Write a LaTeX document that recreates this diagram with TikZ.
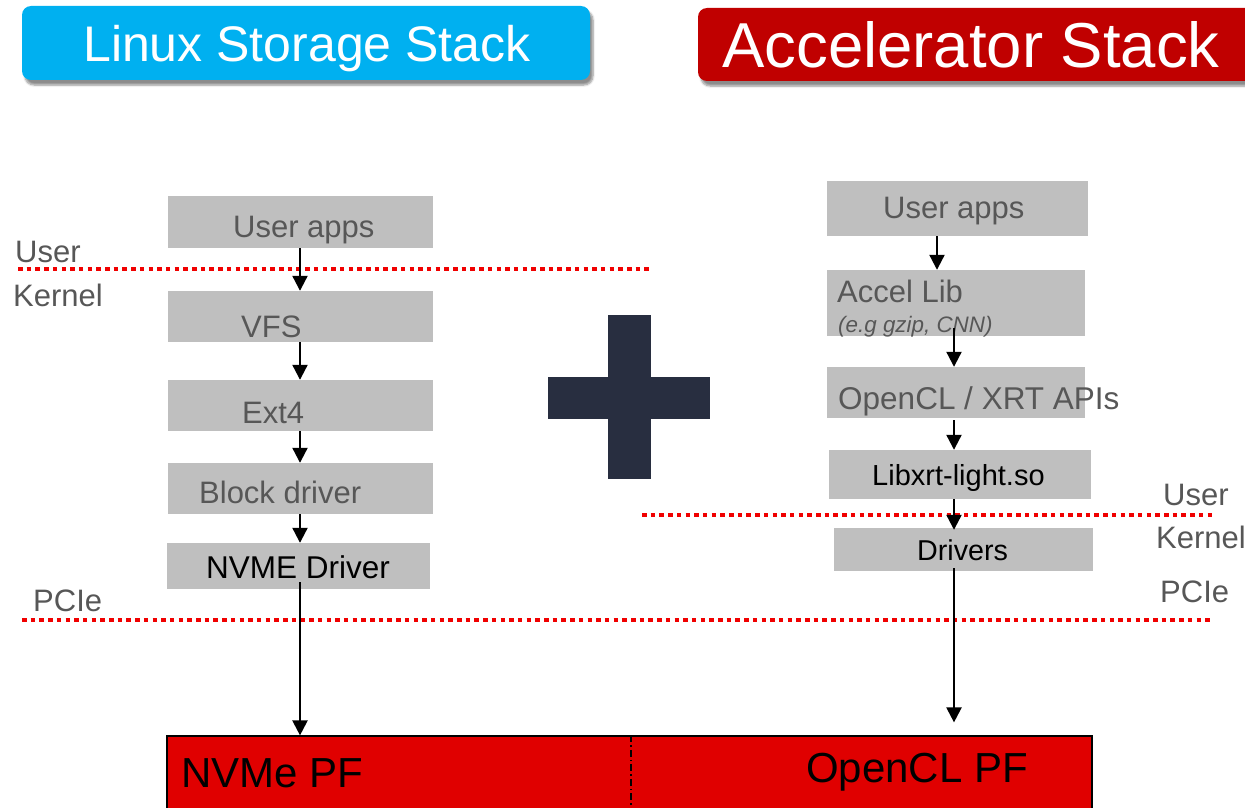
\documentclass[tikz,border=0pt]{standalone}
\usepackage{fontspec}
\setmainfont{Liberation Sans}
\usetikzlibrary{arrows.meta,shadows.blur}
\newcommand\fsz[1]{\fontsize{#1}{#1}\selectfont}
\definecolor{cyanbox}{HTML}{00B0F0}
\definecolor{darkred}{HTML}{C00000}
\definecolor{pfred}{HTML}{E00000}
\definecolor{graybox}{HTML}{BFBFBF}
\definecolor{graytext}{HTML}{575757}
\definecolor{dotred}{HTML}{F00000}
\definecolor{navy}{HTML}{282E40}
\tikzset{
  gbox/.style={fill=graybox, draw=none, inner sep=0, rectangle},
  title/.style={rounded corners=9pt, inner sep=0, draw=none,
    blur shadow={shadow xshift=3pt, shadow yshift=-5pt, shadow blur steps=6, shadow opacity=45}},
  txt/.style={inner sep=0, anchor=base west, text=graytext},
  btxt/.style={inner sep=0, anchor=base west, text=black},
  arr/.style={line width=2.2pt, -{Triangle[width=15pt,length=15pt]}},
  dotline/.style={draw=dotred, line width=4pt, dash pattern=on 4.5pt off 4.2pt},
}
\begin{document}
\begin{tikzpicture}[x=1pt,y=-1pt]
\useasboundingbox (0,0) rectangle (1245,808);

% headers
\node[title, fill=cyanbox, minimum width=568pt, minimum height=74pt] (hl) at (306,43) {};
\node[txt, text=white] (hlt) at (83,62) {\fsz{50}Linux Storage Stack};
\node[title, fill=darkred, minimum width=562pt, minimum height=73pt] (hr) at (979,44.5) {};
\node[txt, text=white] (hrt) at (722,68) {\fsz{63.5}Accelerator Stack};

% column positions of the connectors
\coordinate (colL) at (300,0);
\coordinate (colR) at (954,0);
\coordinate (colRa) at (937,0);

% storage stack
\node[gbox, minimum width=265pt, minimum height=52pt] (L1) at (300.5,222) {};
\node[gbox, minimum width=265pt, minimum height=51pt] (L2) at (300.5,316.5) {};
\node[gbox, minimum width=265pt, minimum height=51pt] (L3) at (300.5,405.5) {};
\node[gbox, minimum width=265pt, minimum height=51pt] (L4) at (300.5,488.5) {};
\node[gbox, minimum width=263pt, minimum height=46pt] (L5) at (298.5,566) {};
\node[txt] (L1t) at (233,237) {\fsz{31}User apps};
\node[txt] (L2t) at (241,337) {\fsz{31}VFS};
\node[txt] (L3t) at (242,423) {\fsz{31}Ext4};
\node[txt] (L4t) at (199,503) {\fsz{31}Block driver};
\node[btxt] (L5t) at (206,578) {\fsz{31.5}NVME Driver};

% accelerator stack
\node[gbox, minimum width=261pt, minimum height=55pt] (R1) at (957.5,208.5) {};
\node[gbox, minimum width=258pt, minimum height=66pt] (R2) at (956,303) {};
\node[gbox, minimum width=258pt, minimum height=51pt] (R3) at (956,392.5) {};
\node[gbox, minimum width=262pt, minimum height=49pt] (R4) at (960,474.5) {};
\node[gbox, minimum width=259pt, minimum height=43pt] (R5) at (963.5,549.5) {};
\node[txt] (R1t) at (883,218) {\fsz{31}User apps};
\node[txt] (R2t) at (837,302) {\fsz{31}Accel Lib};
\node[txt] (R2e) at (838,332) {\fsz{22.4}\itshape (e.g gzip, CNN)};
\node[txt] (R3t) at (838,409) {\fsz{31.5}OpenCL / XRT APIs};
\node[btxt] (R4t) at (872,485) {\fsz{29}Libxrt-light.so};
\node[btxt] (R5t) at (917,560) {\fsz{28.7}Drivers};

% physical functions
\node[fill=pfred, draw=black, line width=1.2pt, inner sep=0,
      minimum width=925pt, minimum height=94pt] (PF) at (629.5,783) {};
\draw[black, line width=1.2pt, dash pattern=on 7pt off 3pt on 1.5pt off 3pt]
  (PF.north -| 631,0) -- (PF.south -| 631,0);
\node[btxt] (PFa) at (181,787) {\fsz{42}NVMe PF};
\node[btxt] (PFb) at (806,782) {\fsz{42}OpenCL PF};

% plus sign
\fill[navy] (608,315) rectangle (651,479);
\fill[navy] (548,377) rectangle (710,419);

% boundaries
\draw[dotline] (18,269) -- (650,269);
\draw[dotline] (642,515) -- (1213,515);
\draw[dotline] (22,620) -- (1210,620);
\node[txt] (lu) at (15,262) {\fsz{31}User};
\node[txt] (lk) at (13,306) {\fsz{31}Kernel};
\node[txt] (lp) at (33,611) {\fsz{31}PCIe};
\node[txt] (ru) at (1163,505) {\fsz{31}User};
\node[txt] (rk) at (1156,548) {\fsz{31}Kernel};
\node[txt] (rp) at (1160,602) {\fsz{31}PCIe};

% storage connectors
\draw[arr] (L1.south -| colL) -- (L2.north -| colL);
\draw[arr] (L2.south -| colL) -- (L3.north -| colL);
\draw[arr] (L3.south -| colL) -- (L4.north -| colL);
\draw[arr] (L4.south -| colL) -- (L5.north -| colL);
\draw[arr] ([yshift=7pt]L5.south -| colL) -- (PF.north -| colL);

% accelerator connectors
\draw[arr] (R1.south -| colRa) -- (R2.north -| colRa);
\draw[arr] ([yshift=8pt]R2.south -| colR) -- (R3.north -| colR);
\draw[arr] ([yshift=-2pt]R3.south -| colR) -- (R4.north -| colR);
\draw[arr] (R4.south -| colR) -- ([yshift=-2pt]R5.north -| colR);
\draw[arr] ([yshift=3pt]R5.south -| colR) -- ([yshift=13pt]PF.north -| colR);
\end{tikzpicture}
\end{document}
